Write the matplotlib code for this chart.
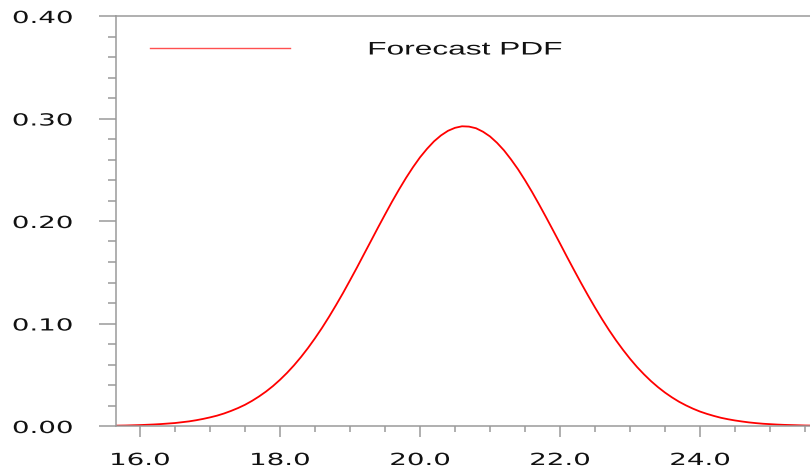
import matplotlib
matplotlib.use("Agg")
import matplotlib.pyplot as plt
from matplotlib.patheffects import AbstractPathEffect
from matplotlib.transforms import Affine2D
from matplotlib.ticker import MultipleLocator, FixedLocator

# Forecast probability density (value per degree), sampled every 0.1
temperature = [round(15.6 + 0.1 * i, 1) for i in range(101)]
density = [0.0003, 0.0004, 0.0005, 0.0007, 0.0009, 0.0012, 0.0015, 0.0019,
           0.0024, 0.0029, 0.0037, 0.0045, 0.0056, 0.0069, 0.0084, 0.0101,
           0.0122, 0.0147, 0.0175, 0.0207, 0.0245, 0.0288, 0.0336, 0.0390,
           0.0451, 0.0518, 0.0592, 0.0673, 0.0761, 0.0856, 0.0957, 0.1065,
           0.1179, 0.1297, 0.1421, 0.1547, 0.1677, 0.1806, 0.1936, 0.2063,
           0.2188, 0.2307, 0.2420, 0.2525, 0.2621, 0.2704, 0.2777, 0.2835,
           0.2880, 0.2909, 0.2924, 0.2921, 0.2905, 0.2871, 0.2825, 0.2763,
           0.2689, 0.2601, 0.2505, 0.2398, 0.2284, 0.2163, 0.2038, 0.1910,
           0.1781, 0.1650, 0.1522, 0.1396, 0.1274, 0.1156, 0.1043, 0.0936,
           0.0836, 0.0743, 0.0656, 0.0576, 0.0504, 0.0438, 0.0379, 0.0326,
           0.0279, 0.0237, 0.0201, 0.0169, 0.0141, 0.0118, 0.0098, 0.0080,
           0.0066, 0.0054, 0.0044, 0.0035, 0.0028, 0.0022, 0.0018, 0.0014,
           0.0011, 0.0009, 0.0007, 0.0005, 0.0004]
series_label = "Forecast PDF"
x_ticks = [16.0, 18.0, 20.0, 22.0, 24.0]
y_ticks = [0.00, 0.10, 0.20, 0.30, 0.40]


class WideGlyphs(AbstractPathEffect):
    """Draw glyphs widened horizontally about one edge or the centre."""

    def __init__(self, sx=1.74, anchor="center"):
        super().__init__()
        self.sx = sx
        self.anchor = anchor

    def draw_path(self, renderer, gc, tpath, affine, rgbFace=None):
        ext = tpath.get_extents(affine)
        x0 = {"left": ext.x0, "center": 0.5 * (ext.x0 + ext.x1),
              "right": ext.x1}[self.anchor]
        t = affine + Affine2D().translate(-x0, 0).scale(self.sx, 1.0).translate(x0, 0)
        renderer.draw_path(gc, tpath, t, rgbFace)


W, H = 810, 468
fig = plt.figure(figsize=(W / 100, H / 100), dpi=100)
ax = fig.add_axes([115.5 / W, 42 / H, 700 / W, 410 / H])

plt.rcParams["font.family"] = ["Liberation Sans", "DejaVu Sans"]
font_size = 12.0
spine_col = "#9a9a9a"

ax.plot(temperature, density, color="#ff0000", lw=1.3, label=series_label,
        solid_joinstyle="round")

ax.set_xlim(15.65, 25.65)
ax.set_ylim(0.0, 0.40)

for side in ("top", "left", "bottom"):
    ax.spines[side].set_color(spine_col)
    ax.spines[side].set_linewidth(1.1)
ax.spines["right"].set_visible(False)

ax.xaxis.set_major_locator(FixedLocator(x_ticks))
ax.yaxis.set_major_locator(FixedLocator(y_ticks))
ax.xaxis.set_minor_locator(MultipleLocator(0.5))
ax.yaxis.set_minor_locator(MultipleLocator(0.02))
ax.set_xticklabels([f"{v:.1f}" for v in x_ticks])
ax.set_yticklabels([f"{v:.2f}" for v in y_ticks])

ax.tick_params(axis="both", which="both", color=spine_col, width=1.1,
               direction="out", labelsize=font_size, labelcolor="#111111")
ax.tick_params(axis="y", which="major", length=12.5, pad=18.5)
ax.tick_params(axis="y", which="minor", length=6)
ax.tick_params(axis="x", which="major", length=8, pad=10)
ax.tick_params(axis="x", which="minor", length=4.5)

for lab in ax.get_xticklabels():
    lab.set_path_effects([WideGlyphs(sx=1.66, anchor="center")])
for lab in ax.get_yticklabels():
    lab.set_path_effects([WideGlyphs(sx=1.66, anchor="right")])

leg = ax.legend(loc="center left", bbox_to_anchor=((150 - 115.5) / 700, (426 - 50) / 410),
                frameon=False, borderpad=0, borderaxespad=0,
                fontsize=13.1, handlelength=7.7, handletextpad=4.3)
leg.get_lines()[0].set_color("#ff5050")
leg.get_lines()[0].set_linewidth(1.0)
for t in leg.get_texts():
    t.set_color("#111111")
    t.set_path_effects([WideGlyphs(anchor="left")])

fig.savefig("out.png", dpi=100)
